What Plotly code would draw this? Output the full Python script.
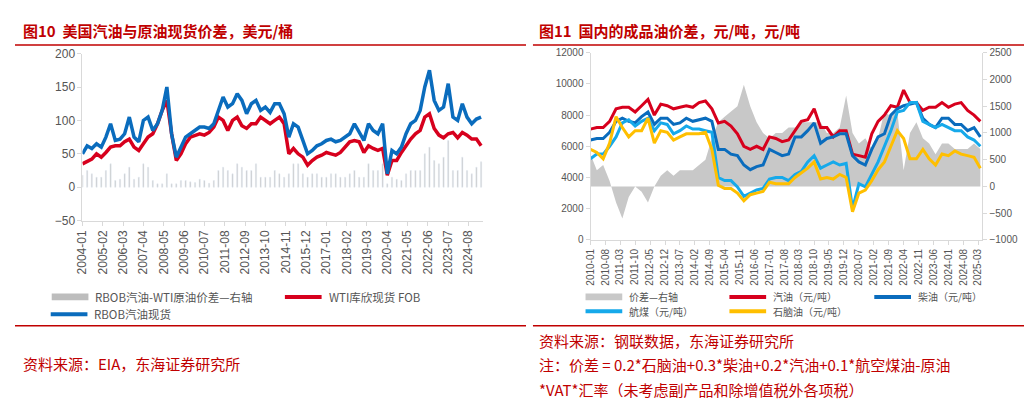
import plotly.graph_objects as go
import pandas as pd

# ---- left chart data (quarterly samples) ----
l_dates = pd.date_range("2004-01-01", "2025-04-01", freq="QS").strftime("%Y-%m-%d").tolist()
rbob = [50,62,58,65, 60,75,95,70, 72,80,105,75, 68,100,105,85, 95,115,150,80, 45,60,75,80,
        85,90,90,88, 95,115,135,120, 125,140,130,110, 125,130,115,120, 112,125,125,110,
        75,95,90,70, 50,55,62,65, 70,72,68,70, 75,80,95,82, 70,95,85,80, 95,20,55,50,
        60,80,95,100, 115,150,175,130, 115,120,155,105, 100,125,105,95, 102,105]
wti = [35,38,42,50, 45,52,60,62, 62,68,72,60, 55,65,75,80, 95,115,130,80, 40,50,65,75,
       78,80,78,82, 90,105,100,85, 100,105,92,88, 95,95,105,100, 95,100,105,95,
       50,58,50,45, 33,40,45,48, 52,50,48,52, 60,68,70,68, 52,62,58,55, 58,18,40,40,
       52,62,72,80, 85,105,110,88, 78,74,80,82, 74,82,78,72, 72,62]
spread_l = [18,25,20,15, 15,25,35,10, 12,20,30,12, 15,35,30,10, 5,5,20,5, 5,10,10,8,
            7,12,10,6, 10,25,30,25, 20,35,30,25, 25,35,15,15, 15,25,20,15,
            20,35,35,20, 15,20,20,15, 15,20,20,15, 15,20,25,15, 15,35,25,25, 35,5,15,12,
            10,20,25,25, 25,50,60,40, 35,45,70,25, 25,45,25,20, 30,38]
l_ticks = ["2004-01","2005-02","2006-03","2007-04","2008-05","2009-06","2010-07","2011-08",
           "2012-09","2013-10","2014-11","2015-12","2017-01","2018-02","2019-03","2020-04",
           "2021-05","2022-06","2023-07","2024-08"]

# ---- right chart data (quarterly samples) ----
r_dates = pd.date_range("2010-01-01", "2025-04-01", freq="QS").strftime("%Y-%m-%d").tolist()
gasoline = [7100,7200,7200,7600, 8400,8500,8500,8200, 8600,9000,8000,8700, 8600,8400,8500,8600,
            8500,8800,8900,8400, 7500,7600,7300,6800, 6000,5800,6000,5800, 6600,6500,6300,6400,
            7000,7600,7700,8400, 7200,7200,6600,7000, 7000,5500,5400,5300, 6800,7600,8000,8600,
            8500,9600,8800,8800, 8300,8500,8500,8800, 8500,8700,8800,8300, 8000,7600]
diesel = [6400,6500,6500,6900, 7600,7800,7600,7500, 7900,8200,7400,7800, 7800,7400,7500,7800,
          7600,7700,7800,7600, 5800,5800,5500,5400, 4800,4500,4700,4800, 5800,5600,5400,5500,
          6600,6600,7000,7500, 6200,6500,6600,6800, 6800,5400,5000,4800, 5800,6600,6800,8000,
          8400,8600,8700,8800, 7800,7400,7200,7800, 7800,7400,7400,7000, 7200,6600]
jet = [5200,5500,5500,6000, 6600,7500,7700,7300, 7600,7800,7000,7500, 7400,6800,7000,7300,
       7100,7100,7000,6900, 4000,3800,3800,3400, 2800,3000,3200,3300, 3900,4000,4000,3800,
       4200,4400,5000,5400, 4600,4800,5000,4800, 4900,2000,3600,3400, 4200,5000,6000,7000,
       8200,8300,8800,8800, 7600,7400,7200,7400, 7200,7000,7000,6600, 6400,6000]
naphtha = [5800,5600,5200,6200, 7900,7200,6600,7000, 7000,7800,6200,7000, 6900,6400,6600,6800,
           6800,6800,6900,5800, 3500,3300,3300,3000, 2500,2900,3000,3100, 3700,3600,3600,3600,
           4000,4300,4600,5000, 3900,4000,3900,4200, 4000,1800,3000,3200, 3800,4500,5000,6000,
           7000,6500,5200,5200, 5800,5200,4800,5500, 5400,5700,5500,5400, 5300,4600]
spread_r = [600,300,400,100, -300,-600,-200,0, -100,-300,0,200, 300,200,300,300,
            300,400,500,900, 1200,1300,1400,1500, 1900,1500,1200,1000, 900,1000,1000,1100,
            1100,1200,1200,1200, 1200,1000,1000,1100, 1700,1000,800,900, 700,900,1400,1300,
            1400,300,1000,1200, 900,800,600,800, 800,700,700,700, 800,700]
r_ticks = pd.date_range("2010-01-01", "2025-03-01", freq="7MS").strftime("%Y-%m").tolist()

W, H = 1032, 404
def py(p): return 1 - p / H
def px(p): return p / W

RED = "#d7001d"; BLUE = "#0a6cbd"; LBLUE = "#16a9ea"; YEL = "#ffbf00"; GRAY = "#c8c8c8"
tickf = dict(family="Liberation Sans, Arial", size=12, color="#555")
tickf2 = dict(family="Liberation Sans, Arial", size=10, color="#555")

fig = go.Figure()
fig.add_trace(go.Bar(x=l_dates, y=spread_l, marker_color=GRAY, width=25*86400000, xaxis="x", yaxis="y"))
fig.add_trace(go.Scatter(x=l_dates, y=wti, line=dict(color=RED, width=3.5), xaxis="x", yaxis="y"))
fig.add_trace(go.Scatter(x=l_dates, y=rbob, line=dict(color=BLUE, width=3.5), xaxis="x", yaxis="y"))

fig.add_trace(go.Scatter(x=r_dates, y=spread_r, fill="tozeroy", mode="none", fillcolor=GRAY,
                         xaxis="x2", yaxis="y2"))
for ser, col in [(gasoline, RED), (diesel, BLUE), (jet, LBLUE), (naphtha, YEL)]:
    fig.add_trace(go.Scatter(x=r_dates, y=ser, line=dict(color=col, width=3), xaxis="x2", yaxis="y3"))

axcommon = dict(showgrid=False, zeroline=False, showline=True, linecolor="#d9d9d9", ticks="outside",
                tickcolor="#d9d9d9", ticklen=4)
fig.update_layout(
    width=W, height=H, margin=dict(l=0, r=0, t=0, b=0), paper_bgcolor="white", plot_bgcolor="white",
    font=dict(family="Noto Sans CJK SC", size=11, color="#333"), showlegend=False,
    xaxis=dict(domain=[px(68), px(472)], anchor="y", type="date", range=["2004-01-01", "2025-05-15"],
               tickvals=[t + "-01" for t in l_ticks], ticktext=l_ticks, tickangle=-90, tickfont=tickf, **axcommon),
    yaxis=dict(domain=[py(213), py(40)], anchor="x", range=[-50, 200], dtick=50, tickfont=tickf, **axcommon),
    xaxis2=dict(domain=[px(580), px(975)], anchor="y2", type="date", range=["2010-01-01", "2025-05-01"],
                tickvals=[t + "-01" for t in r_ticks], ticktext=r_ticks, tickangle=-90, tickfont=tickf2, **axcommon),
    yaxis2=dict(domain=[py(233), py(39)], anchor="x2", side="right", range=[-1000, 2500], dtick=500,
                tickformat="d", tickfont=tickf2, **axcommon),
    yaxis3=dict(overlaying="y2", anchor="x2", side="left", range=[0, 12000], dtick=2000,
                tickformat="d", tickfont=tickf2, **axcommon),
)

# legends
def leg(x0, y, kind, color, text, size):
    if kind == "bar":
        fig.add_shape(type="rect", xref="paper", yref="paper", x0=px(x0), x1=px(x0 + 37),
                      y0=py(y + 3.5), y1=py(y - 3.5), fillcolor=color, line=dict(width=0))
    else:
        fig.add_shape(type="line", xref="paper", yref="paper", x0=px(x0), x1=px(x0 + 37),
                      y0=py(y), y1=py(y), line=dict(color=color, width=4))
    fig.add_annotation(x=px(x0 + 42), y=py(y), xref="paper", yref="paper", xanchor="left", yanchor="middle",
                       text=text, showarrow=False, font=dict(size=size, color="#555"))

leg(37, 292, "bar", "#bdbdbd", "RBOB汽油-WTI原油价差—右轴", 11.5)
leg(272, 292, "line", RED, "WTI库欣现货 FOB", 11.5)
leg(36, 310, "line", BLUE, "RBOB汽油现货", 11.5)
leg(575, 292, "bar", GRAY, "价差—右轴", 10)
leg(720, 292, "line", RED, "汽油（元/吨）", 10)
leg(866, 292, "line", BLUE, "柴油（元/吨）", 10)
leg(575, 307, "line", LBLUE, "航煤（元/吨）", 10)
leg(720, 307, "line", YEL, "石脑油（元/吨）", 10)

TRED = "#c00000"
ann = [
    dict(x=px(6), y=py(16), text="<b>图10  美国汽油与原油现货价差，美元/桶</b>"),
    dict(x=px(526), y=py(16), text="<b>图11  国内的成品油价差，元/吨，元/吨</b>"),
    dict(x=px(6), y=py(361), text="资料来源：EIA，东海证券研究所"),
    dict(x=px(526), y=py(337), text="资料来源：钢联数据，东海证券研究所"),
    dict(x=px(526), y=py(362), text="注：价差 = 0.2*石脑油+0.3*柴油+0.2*汽油+0.1*航空煤油-原油"),
    dict(x=px(526), y=py(388), text="*VAT*汇率（未考虑副产品和除增值税外各项税）"),
]
for a in ann:
    fig.add_annotation(x=a["x"], y=a["y"], xref="paper", yref="paper", xanchor="left", yanchor="middle",
                       text=a["text"], showarrow=False, font=dict(size=15, color=TRED))
for x0, x1 in [(0, 515), (522, 1030)]:
    for yy in (31, 322):
        fig.add_shape(type="line", xref="paper", yref="paper", x0=px(x0), x1=px(x1), y0=py(yy), y1=py(yy),
                      line=dict(color=TRED, width=1.5))

fig.write_html("out.html")
